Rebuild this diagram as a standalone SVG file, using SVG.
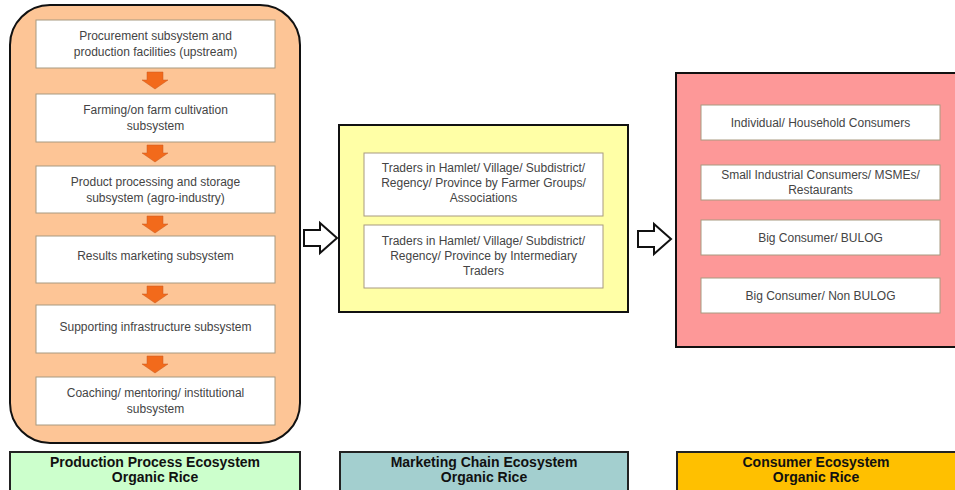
<svg xmlns="http://www.w3.org/2000/svg" width="955" height="490" viewBox="0 0 955 490">
<style>
.box{fill:#fff;stroke:#a89a80;stroke-width:1}
.t{font-family:"Liberation Sans",Arial,sans-serif;font-size:12px;fill:#444;text-anchor:middle}
.lbl{font-family:"Liberation Sans Narrow","Liberation Sans",Arial,sans-serif;font-stretch:condensed;font-weight:bold;font-size:14px;fill:#111;text-anchor:middle}
.oarr{fill:#f26a1b;stroke:#c85a20;stroke-width:0.5}
.harr{fill:#fff;stroke:#111;stroke-width:2;stroke-linejoin:miter}
</style>
<rect width="955" height="490" fill="#fff"/>
<g id="production">
<rect x="10" y="5" width="290" height="438" rx="40" ry="40" fill="#fdc596" stroke="#111" stroke-width="2"/>
<g id="p1"><rect class="box" x="36" y="20" width="239" height="48"/><text class="t" x="155.5" y="40">Procurement subsystem and</text><text class="t" x="155.5" y="56">production facilities (upstream)</text></g>
<g id="p2"><rect class="box" x="36" y="94" width="239" height="48"/><text class="t" x="155.5" y="114">Farming/on farm cultivation</text><text class="t" x="155.5" y="130">subsystem</text></g>
<g id="p3"><rect class="box" x="36" y="166" width="239" height="47"/><text class="t" x="155.5" y="186">Product processing and storage</text><text class="t" x="155.5" y="202">subsystem (agro-industry)</text></g>
<g id="p4"><rect class="box" x="36" y="236" width="239" height="47"/><text class="t" x="155.5" y="260">Results marketing subsystem</text></g>
<g id="p5"><rect class="box" x="36" y="305" width="239" height="48"/><text class="t" x="155.5" y="331">Supporting infrastructure subsystem</text></g>
<g id="p6"><rect class="box" x="36" y="377" width="239" height="48"/><text class="t" x="155.5" y="397">Coaching/ mentoring/ institutional</text><text class="t" x="155.5" y="413">subsystem</text></g>
</g>
<g id="marketing">
<rect x="339" y="125" width="289" height="187" fill="#ffffa6" stroke="#111" stroke-width="2"/>
<g id="m1"><rect class="box" x="364" y="153" width="239" height="63"/><text class="t" x="483.5" y="172">Traders in Hamlet/ Village/ Subdistrict/</text><text class="t" x="483.5" y="187">Regency/ Province by Farmer Groups/</text><text class="t" x="483.5" y="202">Associations</text></g>
<g id="m2"><rect class="box" x="364" y="225" width="239" height="63"/><text class="t" x="483.5" y="245">Traders in Hamlet/ Village/ Subdistrict/</text><text class="t" x="483.5" y="260">Regency/ Province by Intermediary</text><text class="t" x="483.5" y="275">Traders</text></g>
</g>
<g id="consumer">
<rect x="676" y="73" width="285" height="274" fill="#fd9898" stroke="#111" stroke-width="2"/>
<g id="c1"><rect class="box" x="701" y="105" width="239" height="35"/><text class="t" x="820.5" y="127">Individual/ Household Consumers</text></g>
<g id="c2"><rect class="box" x="701" y="165" width="239" height="35"/><text class="t" x="820.5" y="179">Small Industrial Consumers/ MSMEs/</text><text class="t" x="820.5" y="194">Restaurants</text></g>
<g id="c3"><rect class="box" x="701" y="220" width="239" height="35"/><text class="t" x="820.5" y="242">Big Consumer/ BULOG</text></g>
<g id="c4"><rect class="box" x="701" y="278" width="239" height="35"/><text class="t" x="820.5" y="300">Big Consumer/ Non BULOG</text></g>
</g>
<g id="connectors">
<path class="oarr" d="M147,72 H163 V80 H168 L155,89 L142,80 H147 Z"/>
<path class="oarr" d="M147,145 H163 V153 H168 L155,162 L142,153 H147 Z"/>
<path class="oarr" d="M147,216 H163 V224 H168 L155,233 L142,224 H147 Z"/>
<path class="oarr" d="M147,286 H163 V294 H168 L155,303 L142,294 H147 Z"/>
<path class="oarr" d="M147,356 H163 V364 H168 L155,373 L142,364 H147 Z"/>
<path class="harr" d="M304,230 H320 V223 L337,238 L320,253 V246 H304 Z"/>
<path class="harr" d="M638,231 H654 V224 L671,239 L654,254 V247 H638 Z"/>
</g>
<g id="legend-production"><rect x="10" y="452" width="290" height="40" fill="#ccffcc" stroke="#222" stroke-width="2"/><text class="lbl" x="155" y="467">Production Process Ecosystem</text><text class="lbl" x="155" y="482">Organic Rice</text></g>
<g id="legend-marketing"><rect x="340" y="452" width="288" height="40" fill="#a3cfcf" stroke="#222" stroke-width="2"/><text class="lbl" x="484" y="467">Marketing Chain Ecosystem</text><text class="lbl" x="484" y="482">Organic Rice</text></g>
<g id="legend-consumer"><rect x="677" y="452" width="285" height="40" fill="#ffc000" stroke="#222" stroke-width="2"/><text class="lbl" x="816" y="467">Consumer Ecosystem</text><text class="lbl" x="816" y="482">Organic Rice</text></g>
</svg>
